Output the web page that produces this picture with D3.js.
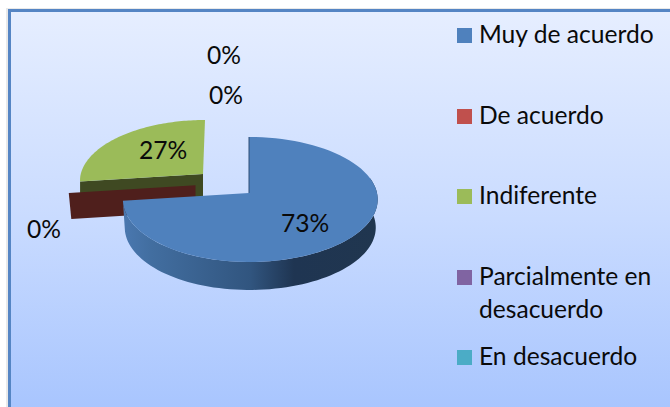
<!DOCTYPE html>
<html><head><meta charset="utf-8">
<script src="https://cdn.jsdelivr.net/npm/d3@7"></script>
<style>html,body{margin:0;padding:0;background:#fff;overflow:hidden}svg{display:block}text{font-family:Lato,Carlito,sans-serif;font-size:24.6px;fill:#0a0a0a}</style>
</head><body><svg id="c" width="670" height="407"></svg>
<script>
const categories = ["Muy de acuerdo","De acuerdo","Indiferente","Parcialmente en desacuerdo","En desacuerdo"];
const shares = [73,0,27,0,0];
const colors = ["#4f81bd","#c0504d","#9bbb59","#8064a2","#4bacc6"];
const wallColors = ["#2f4f76","#4f1f1c","#3f4922","#4c3c61","#2d6777"];
const percentLabels = ["73%","0%","27%","0%","0%"];

(function(){
const W=670,H=407;
const svg=d3.select("#c");
const defs=svg.append("defs");
const bg=defs.append("linearGradient").attr("id","bg").attr("x1",0).attr("y1",0).attr("x2",0).attr("y2",1);
[[0,"#e6eeff"],[0.5,"#c9dbff"],[1,"#a5c3fe"]].forEach(s=>bg.append("stop").attr("offset",s[0]).attr("stop-color",s[1]));
const wg=defs.append("linearGradient").attr("id","wall").attr("gradientUnits","userSpaceOnUse").attr("x1",123).attr("x2",378).attr("y1",0).attr("y2",0);
[[0,"#4a78b0"],[0.11,"#426ea0"],[0.5,"#31557f"],[0.67,"#1f3552"],[1,"#20364f"]].forEach(s=>wg.append("stop").attr("offset",s[0]).attr("stop-color",s[1]));

// frame
svg.append("rect").attr("x",6).attr("y",8).attr("width",W).attr("height",H).attr("fill","#e9e9e9");
svg.append("rect").attr("x",9.5).attr("y",10.5).attr("width",W+10).attr("height",H+10)
  .attr("fill","url(#bg)").attr("stroke","#5585c4").attr("stroke-width",3);

// pie angles
const arcs=d3.pie().sort(null).value(d=>d)(shares);

// perspective projection of a unit disc lying on the floor of the chart
const P=0.104, A=128, B=61.8;
function proj(o,r,t,depth){
  const X=r*Math.sin(t),Y=r*Math.cos(t),w=1+P*Y;
  const k=(depth?o.depthScale:1)*(X<0?o.left:1);
  return [o.x+o.skew*Math.max(0,Y)+k*o.s*A*X/w, o.y+(depth||0)-o.s*B*Y/w];
}
const line=d3.line();
const ticks=(a,b,n=80)=>d3.range(n+1).map(i=>a+(b-a)*i/n);
const views={
  0:{x:249,y:193,s:1,skew:0,depth:28,depthScale:.985,left:.98},
  1:{x:195.5,y:185.3,s:.985,skew:0,depth:26,depthScale:.98,left:1},
  2:{x:203,y:174,s:.965,skew:2,depth:23,depthScale:1,left:.99}
};
function face(i){
  const a=arcs[i],o=views[i];
  return line([[o.x,o.y],...ticks(a.startAngle,a.endAngle).map(t=>proj(o,1,t))])+"Z";
}
function radialWall(i){
  const a=arcs[i],o=views[i],t=a.startAngle;
  return line([[o.x,o.y],proj(o,1,t),proj(o,1,t,o.depth),[o.x,o.y+o.depth]])+"Z";
}
function outerWall(i,a0,a1){
  const o=views[i],ts=ticks(a0,a1);
  return line([...ts.map(t=>proj(o,1,t)),...ts.slice().reverse().map(t=>proj(o,1,t,o.depth))])+"Z";
}
const g=svg.append("g");
// green slice
g.append("path").attr("d",radialWall(2)).attr("fill",wallColors[2]);
g.append("path").attr("d",face(2)).attr("fill",colors[2]);
// zero-width red slice: only its wall is seen
g.append("path").attr("d",radialWall(1)).attr("fill",wallColors[1]);
// blue slice
g.append("path").attr("d",outerWall(0,Math.PI*0.42,arcs[0].endAngle)).attr("fill","url(#wall)");
g.append("path").attr("d",face(0)).attr("fill",colors[0]);
const e0=proj(views[0],1,arcs[0].startAngle);
g.append("path").attr("d",line([[views[0].x,views[0].y],e0])).attr("stroke","#2f4f76").attr("stroke-width",1).attr("fill","none");

// data labels
const labelPos=[[305,232],[44,238],[163,159],[226,104],[224,64]];
svg.append("g").selectAll("text").data(percentLabels).join("text")
  .attr("x",(d,i)=>labelPos[i][0]).attr("y",(d,i)=>labelPos[i][1]).attr("text-anchor","middle").text(d=>d);

// legend
const legY=[28,109,189,270,350];
const legLines=[["Muy de acuerdo"],["De acuerdo"],["Indiferente"],["Parcialmente en","desacuerdo"],["En desacuerdo"]];
const leg=svg.append("g").selectAll("g").data(categories).join("g");
leg.append("rect").attr("x",457).attr("y",(d,i)=>legY[i]).attr("width",15).attr("height",15).attr("fill",(d,i)=>colors[i]);
leg.each(function(d,i){
  d3.select(this).selectAll("text").data(legLines[i]).join("text")
    .attr("x",479).attr("y",(t,j)=>legY[i]+15+j*33).text(t=>t);
});
})();
</script></body></html>
